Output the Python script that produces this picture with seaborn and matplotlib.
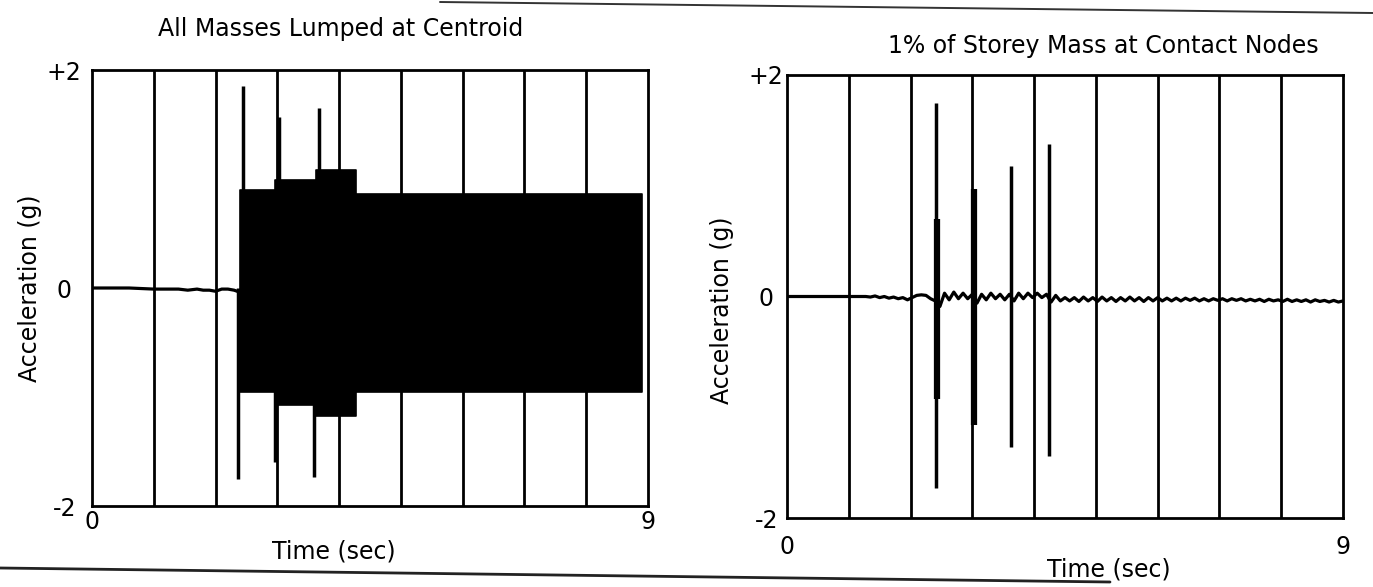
import numpy as np
import pandas as pd
import matplotlib
matplotlib.use("Agg")
import matplotlib.pyplot as plt
import seaborn as sns
from matplotlib.lines import Line2D

# ---------------- data ----------------
time_limits = [0, 9]
accel_limits = [-2, 2]
y_ticks = [-2, 0, 2]
y_tick_labels = ["-2", "0", "+2"]
x_ticks = [0, 9]
x_tick_labels = ["0", "9"]
grid_seconds = [1, 2, 3, 4, 5, 6, 7, 8]

titles = ["All Masses Lumped at Centroid", "1% of Storey Mass at Contact Nodes"]
x_label = "Time (sec)"
y_label = "Acceleration (g)"

# Left panel: quiet trace before pounding starts
left_pre_t = [0.0, 0.6, 1.0, 1.2, 1.4, 1.55, 1.7, 1.8, 1.9, 2.0, 2.1, 2.2, 2.3, 2.4]
left_pre_a = [0.0, 0.0, -0.01, -0.01, -0.01, -0.02, -0.01, -0.02, -0.02, -0.03,
              -0.01, -0.01, -0.02, -0.04]
# Left panel: dense high-frequency response (envelope, stepwise)
left_env_t = [2.40, 2.96, 3.62, 4.27, 8.90]
left_env_upper = [0.90, 0.99, 1.08, 0.86, 0.86]
left_env_lower = [-0.95, -1.07, -1.17, -0.95, -0.95]
# Left panel: impact spikes
left_spike_t = [2.37, 2.45, 2.96, 3.03, 3.60, 3.67]
left_spike_peak = [-1.75, 1.85, -1.60, 1.57, -1.73, 1.65]

# Right panel: base trace sampled every 0.075 s from 0 to 9 s
right_dt = 0.075
right_a = [0.0] * 18 + [
    -0.005, 0.005, -0.01, 0.0, -0.015, -0.005, -0.02, -0.01, -0.03, -0.01,
    0.01, 0.015, 0.01, -0.02, -0.04, -0.09, 0.03, -0.03, 0.04, -0.02,
    0.03, -0.02, 0.02, -0.06, 0.02, -0.03, 0.03, -0.02, 0.02, -0.03,
    0.02, -0.04, 0.03, -0.02, 0.03, -0.01, 0.03, -0.01, 0.02, -0.05,
    0.01, -0.04, -0.01, -0.04, -0.01, -0.045, -0.005, -0.04, -0.01, -0.045,
    -0.005, -0.04, -0.01, -0.045, -0.01, -0.04, -0.005, -0.04, -0.01, -0.045,
    -0.01, -0.04, -0.01, -0.04, -0.015, -0.04, -0.015, -0.04, -0.015, -0.035,
    -0.015, -0.04, -0.02, -0.04, -0.02, -0.035, -0.02, -0.04, -0.02, -0.035,
    -0.02, -0.04, -0.025, -0.04, -0.025, -0.045, -0.025, -0.04, -0.03, -0.045,
    -0.025, -0.045, -0.03, -0.045, -0.03, -0.05, -0.03, -0.045, -0.035, -0.05,
    -0.035, -0.05, -0.04]
# Right panel: thin impact spikes
right_spike_t = [2.41, 3.63, 4.24]
right_spike_low = [-1.73, -1.36, -1.44]
right_spike_high = [1.75, 1.18, 1.38]
# Right panel: dense (thick) impact bursts
right_band_t = [2.43, 3.02]
right_band_low = [-0.93, -1.16]
right_band_high = [0.70, 0.97]

# ---------------- styling ----------------
sns.set_theme(style="white")
plt.rcParams["font.family"] = ["DejaVu Sans"]
plt.rcParams["axes.edgecolor"] = "black"
plt.rcParams["axes.linewidth"] = 2.0

W, H = 1373, 587
fig = plt.figure(figsize=(W / 100, H / 100), dpi=100)
fig.patch.set_facecolor("white")

ax_l = fig.add_axes([92 / W, 1 - 506 / H, 556 / W, 436 / H])
ax_r = fig.add_axes([787 / W, 1 - 518 / H, 556 / W, 443 / H])

FS = 17


def style_axis(ax, title, title_xy, ytick_pad, xtick_pad, xlabel_xy, ylabel_xy):
    ax.set_xlim(*time_limits)
    ax.set_ylim(*accel_limits)
    for s in grid_seconds:
        ax.axvline(s, color="black", lw=2.0, zorder=1)
    ax.set_yticks(y_ticks, labels=y_tick_labels)
    ax.set_xticks(x_ticks, labels=x_tick_labels)
    ax.tick_params(axis="both", length=0, labelsize=FS, colors="black")
    ax.tick_params(axis="y", pad=ytick_pad)
    ax.tick_params(axis="x", pad=xtick_pad)
    for lab in ax.get_yticklabels():
        lab.set_horizontalalignment("center")
    ax.set_xlabel(x_label, fontsize=FS, color="black")
    ax.set_ylabel(y_label, fontsize=FS, color="black")
    ax.xaxis.set_label_coords(*xlabel_xy)
    ax.xaxis.label.set_va("center")
    ax.yaxis.set_label_coords(*ylabel_xy)
    ax.yaxis.label.set_va("center")
    ax.text(title_xy[0], title_xy[1], title, transform=ax.transAxes,
            ha="center", va="center", fontsize=FS, color="black")
    for sp in ax.spines.values():
        sp.set_visible(True)
        sp.set_color("black")
        sp.set_linewidth(2.0)
        sp.set_zorder(5)


# ----- left panel -----
sns.lineplot(x=left_pre_t, y=left_pre_a, ax=ax_l, color="black", lw=2.3,
             estimator=None, sort=False, zorder=3)
ax_l.fill_between(left_env_t, left_env_lower, left_env_upper, step="post",
                  color="black", lw=1.2, zorder=3)
ax_l.vlines(left_spike_t, 0, left_spike_peak, color="black", lw=2.5, zorder=3)
style_axis(ax_l, titles[0], ((341 - 92) / 556, 1 + (70 - 29) / 436),
           ytick_pad=20, xtick_pad=3,
           xlabel_xy=((334 - 92) / 556, -(551 - 506) / 436),
           ylabel_xy=(-(92 - 30) / 556, 0.5))

# ----- right panel -----
right_df = pd.DataFrame({"t": np.arange(len(right_a)) * right_dt, "a": right_a})
sns.lineplot(data=right_df, x="t", y="a", ax=ax_r, color="black", lw=2.3,
             estimator=None, sort=False, zorder=3)
ax_r.vlines(right_spike_t, right_spike_low, right_spike_high, color="black",
            lw=2.5, zorder=3)
ax_r.vlines(right_band_t, right_band_low, right_band_high, color="black",
            lw=4.5, zorder=3)
style_axis(ax_r, titles[1], ((1103 - 787) / 556, 1 + (75 - 46) / 443),
           ytick_pad=15, xtick_pad=12,
           xlabel_xy=((1109 - 787) / 556, -(570 - 518) / 443),
           ylabel_xy=(-(787 - 722) / 556, 0.47))

# ----- scan page rules -----
fig.add_artist(Line2D([440 / W, 1], [1 - 2 / H, 1 - 13 / H],
                      transform=fig.transFigure, color="#333333", lw=1.4))
fig.add_artist(Line2D([0, 1110 / W], [1 - 568 / H, 1 - 582 / H],
                      transform=fig.transFigure, color="#222222", lw=2.0))

fig.savefig("out.png", dpi=100, facecolor="white")
